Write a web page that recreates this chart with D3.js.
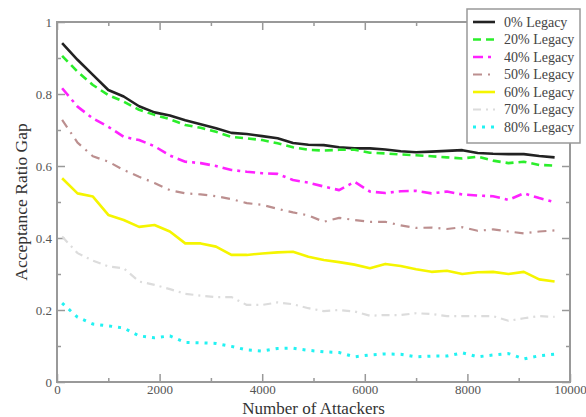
<!DOCTYPE html>
<html>
<head>
<meta charset="utf-8">
<script src="https://cdn.jsdelivr.net/npm/d3@7"></script>
<style>
  body { margin: 0; background: #fff; }
  svg { display: block; }
  svg text { font-family: "Liberation Serif", "Times New Roman", serif; }
</style>
</head>
<body>
<svg id="chart" width="586" height="417"></svg>
<script>
// number of attackers sampled along the x axis
const attackers = [100, 400, 700, 1000, 1300, 1600, 1900, 2200, 2500, 2800, 3100,
  3400, 3700, 4000, 4300, 4600, 4900, 5200, 5500, 5800, 6100, 6400,
  6700, 7000, 7300, 7600, 7900, 8200, 8500, 8800, 9100, 9400, 9700];

const legacy0 = [0.941, 0.895, 0.853, 0.811, 0.793, 0.766, 0.749, 0.740, 0.727, 0.716, 0.705,
  0.692, 0.689, 0.683, 0.677, 0.664, 0.659, 0.658, 0.652, 0.649, 0.649, 0.646,
  0.641, 0.638, 0.640, 0.642, 0.644, 0.636, 0.634, 0.633, 0.633, 0.628, 0.624];
const legacy20 = [0.906, 0.862, 0.825, 0.797, 0.779, 0.756, 0.742, 0.730, 0.714, 0.706, 0.695,
  0.681, 0.677, 0.672, 0.663, 0.652, 0.645, 0.643, 0.645, 0.645, 0.637, 0.635,
  0.632, 0.630, 0.627, 0.624, 0.621, 0.626, 0.615, 0.608, 0.612, 0.603, 0.601];
const legacy40 = [0.816, 0.765, 0.732, 0.709, 0.681, 0.672, 0.655, 0.629, 0.612, 0.608, 0.600,
  0.589, 0.584, 0.580, 0.578, 0.561, 0.554, 0.543, 0.533, 0.556, 0.529, 0.525,
  0.530, 0.531, 0.524, 0.529, 0.521, 0.518, 0.516, 0.506, 0.524, 0.511, 0.500];
const legacy50 = [0.728, 0.665, 0.627, 0.612, 0.589, 0.570, 0.553, 0.533, 0.524, 0.521, 0.516,
  0.508, 0.497, 0.492, 0.481, 0.471, 0.463, 0.445, 0.456, 0.450, 0.445, 0.445,
  0.435, 0.428, 0.429, 0.425, 0.430, 0.420, 0.424, 0.418, 0.413, 0.418, 0.421];
const legacy60 = [0.566, 0.524, 0.515, 0.464, 0.450, 0.431, 0.436, 0.418, 0.385, 0.385, 0.376,
  0.353, 0.353, 0.357, 0.360, 0.362, 0.348, 0.339, 0.333, 0.326, 0.316, 0.328,
  0.322, 0.313, 0.306, 0.309, 0.300, 0.305, 0.306, 0.300, 0.306, 0.285, 0.279];
const legacy70 = [0.404, 0.358, 0.337, 0.321, 0.316, 0.279, 0.270, 0.258, 0.245, 0.240, 0.236,
  0.236, 0.214, 0.214, 0.221, 0.216, 0.205, 0.197, 0.200, 0.196, 0.184, 0.186,
  0.186, 0.191, 0.189, 0.183, 0.183, 0.183, 0.183, 0.170, 0.177, 0.183, 0.181];
const legacy80 = [0.219, 0.180, 0.161, 0.156, 0.150, 0.128, 0.123, 0.128, 0.110, 0.109, 0.107,
  0.099, 0.089, 0.086, 0.093, 0.094, 0.088, 0.084, 0.082, 0.070, 0.075, 0.078,
  0.077, 0.070, 0.072, 0.072, 0.081, 0.070, 0.075, 0.079, 0.064, 0.073, 0.077];

const seriesNames = ["0% Legacy", "20% Legacy", "40% Legacy", "50% Legacy",
  "60% Legacy", "70% Legacy", "80% Legacy"];

const xTicks = [0, 2000, 4000, 6000, 8000, 10000];
const xMinorTicks = [1000, 3000, 5000, 7000, 9000];
const yTicks = [0, 0.2, 0.4, 0.6, 0.8, 1];
const yMinorTicks = [0.1, 0.3, 0.5, 0.7, 0.9];

// line styles, same order as seriesNames
const styles = [
  { color: "#222222", width: 2.6, dash: null },
  { color: "#2bee2b", width: 2.6, dash: "8,5" },
  { color: "#ff22ff", width: 2.6, dash: "10,5,3,5" },
  { color: "#bc8f8f", width: 2.2, dash: "9,6,2,6" },
  { color: "#f5f500", width: 2.6, dash: null },
  { color: "#dcdcdc", width: 2.2, dash: "8,5,2,5" },
  { color: "#22f2f2", width: 3, dash: "3,6" }
];

const allSeries = [legacy0, legacy20, legacy40, legacy50, legacy60, legacy70, legacy80];

const plot = { left: 57, right: 570, top: 22, bottom: 382 };
const serif = "Liberation Serif, Times New Roman, serif";
const svg = d3.select("#chart");

const x = d3.scaleLinear().domain([0, 10000]).range([plot.left, plot.right]);
const y = d3.scaleLinear().domain([0, 1]).range([plot.bottom, plot.top]);

const axisColor = "#999";
const labelColor = "#555";

// minor ticks
svg.append("g").attr("transform", "translate(0," + plot.bottom + ")")
  .call(d3.axisBottom(x).tickValues(xMinorTicks).tickSize(-4).tickFormat(""));
svg.append("g").attr("transform", "translate(0," + plot.top + ")")
  .call(d3.axisTop(x).tickValues(xMinorTicks).tickSize(-4).tickFormat(""));
svg.append("g").attr("transform", "translate(" + plot.left + ",0)")
  .call(d3.axisLeft(y).tickValues(yMinorTicks).tickSize(-4).tickFormat(""));
svg.append("g").attr("transform", "translate(" + plot.right + ",0)")
  .call(d3.axisRight(y).tickValues(yMinorTicks).tickSize(-4).tickFormat(""));

// major ticks
svg.append("g").attr("class", "axis axis-x").attr("transform", "translate(0," + plot.bottom + ")")
  .call(d3.axisBottom(x).tickValues(xTicks).tickSize(-8).tickPadding(3).tickFormat(d3.format("d")));
svg.append("g").attr("transform", "translate(0," + plot.top + ")")
  .call(d3.axisTop(x).tickValues(xTicks).tickSize(-8).tickFormat(""));
svg.append("g").attr("class", "axis axis-y").attr("transform", "translate(" + plot.left + ",0)")
  .call(d3.axisLeft(y).tickValues(yTicks).tickSize(-8).tickPadding(5).tickFormat(d => d));
svg.append("g").attr("transform", "translate(" + plot.right + ",0)")
  .call(d3.axisRight(y).tickValues(yTicks).tickSize(-8).tickFormat(""));

svg.selectAll(".domain").remove();
svg.selectAll("g").attr("font-family", serif);
svg.selectAll(".tick line").attr("stroke", axisColor).attr("stroke-width", 1.5);
svg.selectAll(".tick text")
  .attr("fill", labelColor)
  .attr("font-family", serif)
  .attr("font-size", 13);

// series lines
const line = d3.line()
  .x((d, i) => x(attackers[i]))
  .y(d => y(d));

allSeries.forEach((s, k) => {
  svg.append("path")
    .datum(s)
    .attr("fill", "none")
    .attr("stroke", styles[k].color)
    .attr("stroke-width", styles[k].width)
    .attr("stroke-dasharray", styles[k].dash)
    .attr("stroke-linejoin", "round")
    .attr("d", line);
});

// plot frame
svg.append("rect")
  .attr("x", plot.left).attr("y", plot.top)
  .attr("width", plot.right - plot.left).attr("height", plot.bottom - plot.top)
  .attr("fill", "none")
  .attr("stroke", axisColor)
  .attr("stroke-width", 2);

// axis titles
svg.append("text")
  .attr("x", (plot.left + plot.right) / 2)
  .attr("y", 413.5)
  .attr("text-anchor", "middle")
  .attr("fill", "#333")
  .attr("font-family", serif)
  .attr("font-size", 17)
  .text("Number of Attackers");

svg.append("text")
  .attr("transform", "translate(27," + (plot.top + plot.bottom) / 2 + ") rotate(-90)")
  .attr("text-anchor", "middle")
  .attr("fill", "#333")
  .attr("font-family", serif)
  .attr("font-size", 17.5)
  .text("Acceptance Ratio Gap");

// legend
const legend = svg.append("g").attr("transform", "translate(467,9)");
legend.append("rect")
  .attr("width", 113).attr("height", 134)
  .attr("fill", "#fff")
  .attr("stroke", axisColor)
  .attr("stroke-width", 1.5);

seriesNames.forEach((name, k) => {
  const row = legend.append("g").attr("transform", "translate(0," + (13 + k * 17.5) + ")");
  row.append("line")
    .attr("x1", 6).attr("x2", 28)
    .attr("stroke", styles[k].color)
    .attr("stroke-width", styles[k].width)
    .attr("stroke-dasharray", styles[k].dash);
  row.append("text")
    .attr("x", 37).attr("dy", "0.35em")
    .attr("fill", "#444")
    .attr("font-family", serif)
    .attr("font-size", 14)
    .text(name);
});
</script>
</body>
</html>
